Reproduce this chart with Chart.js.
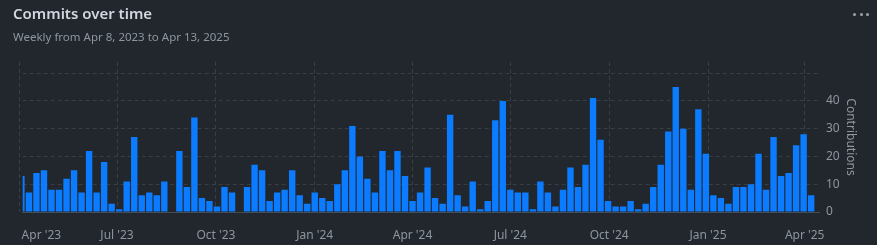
<!DOCTYPE html>
<html>
<head>
<meta charset="utf-8">
<title>Commits over time</title>
<script src="https://cdn.jsdelivr.net/npm/chart.js@4/dist/chart.umd.min.js"></script>
<style>
  html, body { margin: 0; padding: 0; background: #22272e; }
  body { width: 877px; height: 245px; position: relative; overflow: hidden; font-family: "Noto Sans", sans-serif; }
  #title { position: absolute; left: 13px; top: 3px; font-size: 15px; font-weight: 600; color: #d1d7e0; white-space: nowrap; }
  #subtitle { position: absolute; left: 13px; top: 29px; font-size: 11.5px; color: #8d96a0; white-space: nowrap; }
  #menu { position: absolute; left: 853px; top: 13px; height: 3px; }
  #menu span { float: left; width: 3px; height: 3px; border-radius: 50%; background: #9aa3ad; margin-right: 3.5px; }
  #wrap { position: absolute; left: 0; top: 0; width: 877px; height: 245px; }
</style>
</head>
<body>
<div id="wrap"><canvas id="commits"></canvas></div>
<div id="title">Commits over time</div>
<div id="subtitle">Weekly from Apr 8, 2023 to Apr 13, 2025</div>
<div id="menu"><span></span><span></span><span></span></div>
<script>
// weekly commit counts (one bar per week, first week starts Mon Apr 3 2023)
var firstWeek = '2023-04-03';
var commits = [
  13, 7, 14, 15, 8, 8, 12, 15, 7, 22, 7, 18, 3, 1, 11, 27, 6, 7, 6, 11,
  0, 22, 9, 34, 5, 4, 2, 9, 7, 0, 9, 17, 15, 4, 7, 8, 15, 6, 3, 7,
  5, 4, 10, 15, 31, 20, 12, 7, 22, 15, 22, 13, 4, 7, 16, 5, 3, 35, 6, 2,
  11, 1, 4, 33, 40, 8, 7, 7, 1, 11, 7, 2, 8, 16, 9, 17, 41, 26, 4, 2,
  2, 4, 1, 3, 9, 17, 29, 45, 30, 8, 37, 21, 6, 5, 3, 9, 9, 10, 21, 8,
  27, 13, 14, 24, 28, 6
];

// x axis month ticks
var monthDates = ['2023-04-01', '2023-07-01', '2023-10-01', '2024-01-01', '2024-04-01',
                  '2024-07-01', '2024-10-01', '2025-01-01', '2025-04-01'];
var monthLabels = ["Apr '23", "Jul '23", "Oct '23", "Jan '24", "Apr '24",
                   "Jul '24", "Oct '24", "Jan '25", "Apr '25"];

// y axis ticks
var yTicks = [0, 10, 20, 30, 40, 50];
var yTickLabels = ['0', '10', '20', '30', '40', ''];

var gridColor = '#383e47';
var textColor = '#8d96a0';

var origin = Date.UTC(2023, 3, 1);
function dayOf(s) {
  var p = s.split('-').map(Number);
  return (Date.UTC(p[0], p[1] - 1, p[2]) - origin) / 864e5;
}

var points = [];
var start = dayOf(firstWeek);
for (var i = 0; i < commits.length; i++) {
  points.push({ x: start + i * 7, y: commits[i] });
}

var monthDays = monthDates.map(dayOf);
var labelByValue = {};
// first label is pushed right so it stays inside the plot
var firstLabelAt = 20.6;

new Chart(document.getElementById('commits'), {
  type: 'bar',
  data: {
    datasets: [{
      label: 'Contributions',
      data: points,
      backgroundColor: '#0b7bff',
      borderWidth: 0,
      barPercentage: 1,
      categoryPercentage: 0.85
    }]
  },
  options: {
    responsive: true,
    maintainAspectRatio: false,
    animation: false,
    devicePixelRatio: 1,
    layout: { padding: { left: 22.7, right: 18, top: 62, bottom: 0 } },
    plugins: {
      legend: { display: false },
      tooltip: { enabled: false }
    },
    scales: {
      x: {
        type: 'linear',
        min: 3.2,
        max: 744.3,
        offset: false,
        grid: {
          offset: false,
          drawTicks: false,
          color: function (ctx) {
            return ctx.tick && ctx.tick.noGrid ? 'rgba(0,0,0,0)' : gridColor;
          }
        },
        border: { display: true, color: '#444c56', dash: [4, 3] },
        ticks: {
          autoSkip: false,
          maxRotation: 0,
          padding: 16,
          color: textColor,
          font: { family: 'Noto Sans', size: 12 },
          callback: function (value) {
            return labelByValue[value] || '';
          }
        },
        afterBuildTicks: function (scale) {
          var t = [];
          for (var j = 0; j < monthDays.length; j++) {
            if (j === 0) {
              t.push({ value: monthDays[0] });
              t.push({ value: firstLabelAt, noGrid: true });
              labelByValue[firstLabelAt] = monthLabels[0];
            } else {
              t.push({ value: monthDays[j] });
              labelByValue[monthDays[j]] = monthLabels[j];
            }
          }
          scale.ticks = t;
        },
        afterFit: function (scale) { scale.height = 33; }
      },
      y: {
        position: 'right',
        min: 0,
        max: 54,
        grid: { drawTicks: false, color: gridColor },
        border: { display: false, dash: [4, 3] },
        ticks: {
          padding: 7,
          color: textColor,
          font: { family: 'Noto Sans', size: 12 },
          callback: function (value) {
            var k = yTicks.indexOf(value);
            return k >= 0 ? yTickLabels[k] : '';
          }
        },
        afterBuildTicks: function (scale) {
          scale.ticks = yTicks.map(function (v) { return { value: v }; });
        },
        title: {
          display: true,
          text: 'Contributions',
          color: textColor,
          font: { family: 'Noto Sans', size: 12 },
          padding: { top: 1, bottom: 0 }
        },
        afterFit: function (scale) { scale.width = 40; }
      }
    }
  }
});
</script>
</body>
</html>
